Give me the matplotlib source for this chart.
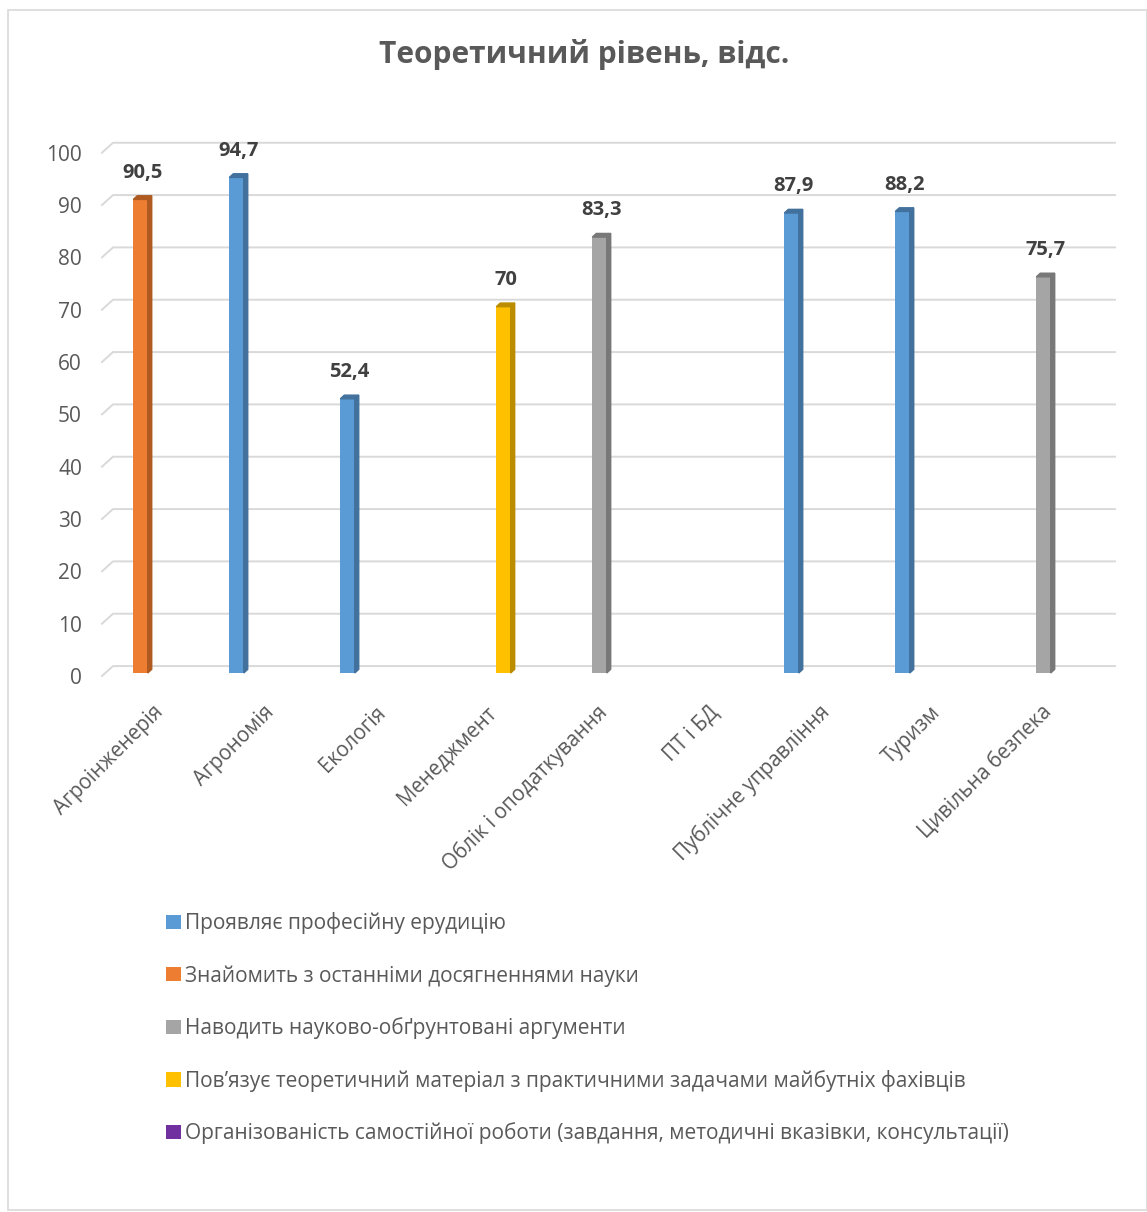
import numpy as np
import matplotlib.pyplot as plt
import matplotlib.transforms as mtransforms
from matplotlib.patches import Polygon, Rectangle

plt.rcParams['font.family'] = ['Open Sans', 'DejaVu Sans']

categories = ['Агроінженерія', 'Агрономія', 'Екологія', 'Менеджмент',
              'Облік і оподаткування', 'ПТ і БД', 'Публічне управління',
              'Туризм', 'Цивільна безпека']
series_names = ['Проявляє професійну ерудицію',
                'Знайомить з останніми досягненнями науки',
                'Наводить науково-обґрунтовані аргументи',
                'Пов’язує теоретичний матеріал з практичними задачами майбутніх фахівців',
                'Організованість самостійної роботи (завдання, методичні вказівки, консультації)']
nan = np.nan
erudition = [nan, 94.7, 52.4, nan, nan, nan, 87.9, 88.2, nan]
novelty = [90.5, nan, nan, nan, nan, nan, nan, nan, nan]
arguments = [nan, nan, nan, nan, 83.3, nan, nan, nan, 75.7]
practice = [nan, nan, nan, 70, nan, nan, nan, nan, nan]
selfwork = [nan] * 9
series = [erudition, novelty, arguments, practice, selfwork]
yticks = list(range(0, 101, 10))

front = ['#5B9BD5', '#ED7D31', '#A5A5A5', '#FFC000', '#7030A0']
side = ['#41719C', '#AE5A21', '#787878', '#BC8C00', '#4E2270']
text_c = '#595959'

W, H = 1147, 1212
fig = plt.figure(figsize=(W / 100, H / 100), dpi=100)
# axes = plane of the bars (0 at y=676, 100 at y=149.7)
ax = fig.add_axes([100 / W, 1 - 676 / H, 999 / W, (676 - 149.7) / H])
ax.set_xlim(-0.5, 8.5)
ax.set_ylim(0, 100)

x = np.arange(len(categories))
slot = 0.135
bw = 0.13
dx, dy = 0.036, 0.7   # depth of the bar sides
back, fr = 1.33, -0.57  # back wall / front edge offsets in data units

# gridlines on the back wall with a slanted left end
for v in yticks:
    ax.plot([-0.482, -0.383, 8.644], [v + fr, v + back, v + back], color='#d9d9d9',
            lw=1.4, clip_on=False, zorder=1)

for s, vals in enumerate(series):
    pos = x - 0.3375 + slot * (s + 0.5)
    ax.bar(pos, vals, width=bw, color=front[s], label=series_names[s], zorder=3)
    for p, v in zip(pos, vals):
        if np.isnan(v):
            continue
        r = p + bw / 2
        l = p - bw / 2
        ax.add_patch(Polygon([[r, 0], [r + dx, dy], [r + dx, v + dy], [r, v]],
                             closed=True, color=side[s], zorder=3, clip_on=False))
        ax.add_patch(Polygon([[l, v], [l + dx, v + dy], [r + dx, v + dy], [r, v]],
                             closed=True, color=side[s], zorder=3, clip_on=False))
        lab = ('%g' % v).replace('.', ',')
        ax.text(p + dx / 2, v + 5.1, lab, ha='center', va='center', fontsize=14.5,
                fontweight='bold', color='#404040')

for sp in ax.spines.values():
    sp.set_visible(False)
ax.set_yticks([v + fr for v in yticks], [str(v) for v in yticks])
ax.tick_params(axis='y', length=0, pad=13, labelsize=15, labelcolor=text_c)
ax.set_xticks(x)
ax.set_xticklabels(categories, rotation=45, ha='right', va='center',
                   rotation_mode='anchor', fontsize=14.8, color=text_c)
ax.tick_params(axis='x', length=0, pad=24)
shift = mtransforms.ScaledTranslation(5 / 100, 0, fig.dpi_scale_trans)
for t in ax.get_xticklabels():
    t.set_transform(t.get_transform() + shift)

fig.text(584 / W, 1 - 55 / H, 'Теоретичний рівень, відс.', ha='center', va='center',
         fontsize=21.5, fontweight='bold', color=text_c)

fig.legend(loc='upper left', bbox_to_anchor=(158 / W, 1 - 904 / H), frameon=False,
           fontsize=15, labelcolor=text_c, labelspacing=1.475, handlelength=0.68,
           handleheight=0.68, handletextpad=0.22, borderaxespad=0)

fig.patches.append(Rectangle((8 / W, 2 / H), 1 - 8 / W, 1 - 12 / H,
                             transform=fig.transFigure, fill=False,
                             edgecolor='#d9d9d9', lw=1.2))

fig.savefig('out.png', dpi=100)
